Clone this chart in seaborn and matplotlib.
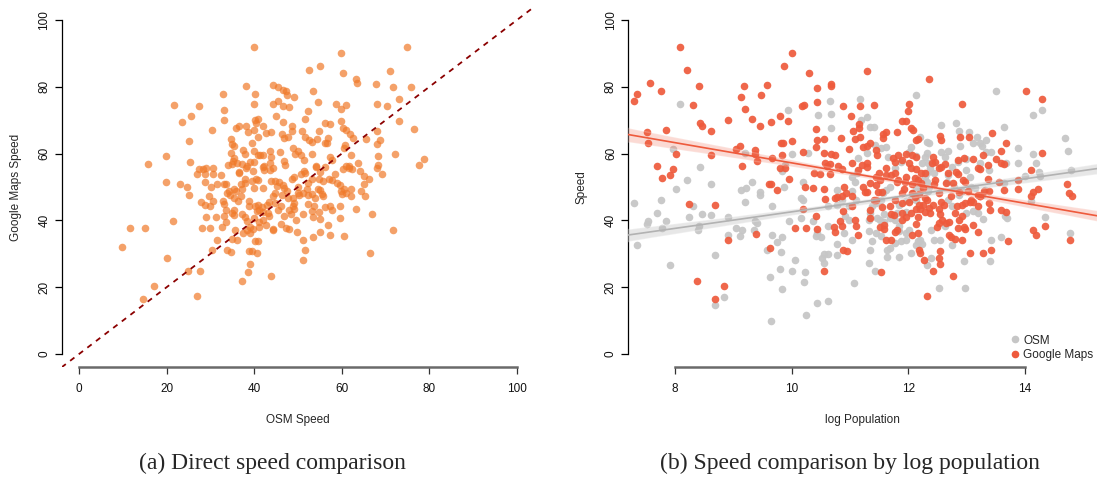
import matplotlib
matplotlib.use("Agg")
import matplotlib.pyplot as plt
from matplotlib.lines import Line2D
import seaborn as sns
import pandas as pd

# ---------------- Panel (a): OSM speed vs Google Maps speed ----------------
osm_speed = [
    40.0, 74.9, 59.9, 52.4, 55.0, 60.2, 71.0, 63.3, 63.5, 38.1,
    44.3, 45.4, 46.5, 47.3, 40.2, 32.9, 53.5, 49.1, 67.9, 71.6,
    75.8, 47.6, 21.8, 27.5, 25.6, 23.4, 33.1, 33.1, 40.0, 44.3,
    45.4, 46.5, 48.0, 52.3, 54.6, 58.7, 59.9, 60.9, 68.1, 70.4,
    73.1, 73.1, 45.0, 46.5, 51.6, 40.1, 40.9, 42.1, 40.3, 38.2,
    36.5, 35.9, 30.4, 43.8, 42.8, 38.6, 40.0, 48.7, 48.6, 46.3,
    47.7, 46.8, 51.0, 51.5, 52.5, 53.1, 54.3, 54.8, 56.2, 57.2,
    59.9, 60.2, 60.9, 61.9, 62.6, 65.6, 68.1, 68.8, 68.1, 76.5,
    72.1, 68.3, 68.2, 68.0, 69.2, 77.6, 78.8, 34.6, 34.9, 35.4,
    37.4, 37.8, 34.7, 35.4, 34.9, 39.6, 40.9, 41.3, 40.0, 43.5,
    43.9, 43.7, 44.4, 45.8, 46.8, 47.1, 48.9, 50.0, 49.4, 50.7,
    51.4, 53.1, 56.2, 56.7, 56.8, 57.2, 57.8, 60.5, 60.8, 62.2,
    63.6, 60.9, 61.6, 19.8, 15.8, 25.4, 25.0, 19.9, 23.1, 24.6,
    25.1, 26.9, 27.4, 28.2, 29.0, 30.6, 28.8, 30.6, 28.8, 30.1,
    31.4, 29.6, 27.9, 28.8, 29.8, 30.6, 32.5, 33.0, 33.5, 33.7,
    34.3, 34.5, 32.8, 33.1, 33.5, 33.2, 33.5, 32.7, 31.2, 29.0,
    29.9, 28.0, 21.5, 20.0, 11.6, 15.0, 9.9, 30.4, 31.5, 33.9,
    34.8, 24.9, 27.6, 26.9, 17.1, 14.7, 37.3, 38.6, 39.0, 39.4,
    40.6, 40.2, 40.9, 43.8, 38.9, 34.9, 36.1, 35.7, 37.4, 38.4,
    39.8, 39.1, 41.0, 42.8, 44.3, 46.1, 47.2, 48.0, 49.6, 49.8,
    51.1, 51.6, 51.2, 53.4, 55.0, 57.3, 56.9, 60.5, 66.5, 71.6,
    67.0, 63.2, 59.6, 59.6, 57.8, 57.3, 56.1, 55.0, 54.8, 53.4,
    53.2, 51.1, 49.2, 48.8, 49.1, 48.8, 47.9, 48.5, 46.8, 46.1,
    45.5, 44.8, 44.8, 44.4, 46.3, 46.9, 45.2, 46.6, 43.9, 44.7,
    45.6, 47.5, 48.6, 49.2, 50.7, 51.3, 51.7, 52.3, 52.1, 52.2,
    50.0, 50.3, 53.2, 52.2, 53.1, 54.0, 54.2, 55.0, 54.8, 56.2,
    57.1, 57.7, 58.5, 58.9, 59.6, 59.9, 60.1, 60.5, 61.0, 62.2,
    62.0, 60.2, 61.6, 62.4, 64.2, 65.0, 65.0, 64.4, 65.2, 66.3,
    55.0, 55.4, 54.6, 55.8, 55.8, 53.9, 53.7, 50.0, 51.1, 47.7,
    38.4, 39.0, 40.0, 37.3, 36.6, 38.2, 39.7, 40.9, 40.4, 42.0,
    42.3, 43.5, 40.9, 41.9, 42.2, 36.9, 37.8, 38.0, 39.4, 42.0,
    40.0, 37.2, 35.9, 37.0, 36.2, 35.3, 35.5, 35.4, 35.5, 34.9,
    37.2, 37.9, 38.9, 38.8, 40.2, 40.8, 41.2, 41.7, 40.6, 41.9,
    43.1, 43.4, 42.9, 43.4, 40.0, 38.4, 39.1, 41.2, 42.0, 44.3,
    36.1, 36.6, 35.1, 34.1,
]
gmaps_speed = [
    92.0, 92.0, 90.2, 85.0, 86.3, 84.1, 84.6, 82.3, 81.2, 80.3,
    80.6, 79.9, 79.1, 78.6, 77.9, 77.9, 78.8, 77.0, 80.7, 79.8,
    80.0, 77.4, 74.6, 74.3, 71.4, 69.6, 73.1, 70.2, 74.9, 74.8,
    75.6, 74.3, 74.0, 72.8, 75.4, 74.8, 73.2, 74.6, 74.9, 74.3,
    76.4, 69.9, 71.3, 69.4, 70.4, 70.0, 70.4, 68.3, 69.2, 68.2,
    68.3, 67.6, 67.2, 66.4, 66.1, 66.4, 67.1, 68.2, 66.9, 65.8,
    65.1, 64.6, 66.8, 65.1, 64.1, 63.6, 64.3, 66.8, 69.1, 68.8,
    69.8, 67.7, 67.1, 65.9, 64.8, 64.3, 66.8, 64.0, 62.8, 67.3,
    59.8, 59.4, 56.7, 55.8, 54.0, 56.7, 58.4, 64.3, 62.9, 62.3,
    61.2, 59.9, 60.1, 58.6, 57.0, 63.3, 65.1, 59.6, 60.9, 60.9,
    59.1, 57.2, 55.7, 60.6, 57.8, 56.7, 61.8, 60.8, 59.9, 59.5,
    58.1, 59.9, 63.1, 63.1, 64.7, 59.0, 58.1, 61.8, 62.6, 59.5,
    57.3, 56.4, 55.8, 59.4, 56.8, 57.4, 63.8, 51.4, 50.9, 50.0,
    47.7, 53.8, 55.3, 55.4, 55.6, 55.6, 53.9, 53.8, 51.5, 49.9,
    50.8, 47.2, 45.4, 44.5, 44.4, 45.7, 53.6, 51.0, 50.8, 48.1,
    48.7, 47.7, 45.9, 44.8, 43.1, 41.4, 39.4, 37.9, 41.0, 40.9,
    37.7, 37.7, 39.9, 28.6, 37.7, 37.6, 31.9, 31.0, 34.1, 31.0,
    30.4, 25.0, 25.0, 17.3, 20.5, 16.5, 22.0, 24.6, 26.9, 30.8,
    30.2, 33.8, 33.8, 23.5, 30.8, 34.4, 34.2, 37.1, 36.3, 37.1,
    37.5, 36.2, 38.0, 38.5, 37.3, 38.9, 37.7, 37.4, 40.1, 36.5,
    34.2, 31.2, 28.2, 34.9, 36.5, 35.7, 38.6, 35.2, 30.1, 37.1,
    42.0, 43.5, 40.7, 44.2, 43.1, 44.2, 43.9, 40.4, 42.4, 40.9,
    42.7, 41.9, 43.4, 44.3, 45.3, 46.7, 43.0, 41.8, 41.2, 44.3,
    43.0, 45.2, 48.2, 47.2, 47.7, 49.7, 50.3, 50.6, 51.8, 51.9,
    51.4, 48.9, 52.4, 52.9, 53.8, 54.7, 54.1, 51.3, 49.4, 47.5,
    48.2, 47.5, 47.9, 44.8, 52.3, 56.1, 56.4, 54.6, 52.5, 55.9,
    52.5, 52.1, 53.9, 51.3, 50.6, 48.8, 47.8, 49.3, 48.3, 47.4,
    49.3, 55.4, 56.4, 55.4, 54.8, 53.3, 50.8, 48.8, 47.4, 52.4,
    49.1, 47.8, 49.4, 51.8, 47.2, 46.6, 44.2, 49.9, 48.2, 46.7,
    56.2, 57.6, 57.6, 56.8, 54.4, 55.6, 54.7, 52.2, 52.5, 56.1,
    55.0, 55.1, 59.6, 59.5, 56.2, 50.8, 52.4, 51.3, 51.7, 49.8,
    49.7, 49.3, 48.7, 47.2, 45.9, 49.3, 46.7, 43.2, 41.7, 42.2,
    41.9, 41.1, 44.2, 45.7, 44.2, 44.5, 43.0, 43.9, 42.8, 42.6,
    42.2, 41.2, 44.7, 45.4, 40.6, 39.7, 38.1, 39.4, 40.1, 37.2,
    57.3, 54.3, 57.8, 56.6,
]

# ---------------- Panel (b): speed vs log population ----------------
osm_logpop = [
    8.08, 10.65, 10.67, 10.45, 10.67, 9.93, 11.18, 11.19, 11.29, 11.35,
    11.41, 12.13, 13.51, 14.15, 14.29, 14.69, 14.75, 14.79, 14.34, 14.77,
    14.14, 14.19, 14.24, 14.27, 14.00, 14.11, 13.88, 13.88, 13.64, 13.68,
    13.64, 13.66, 13.70, 13.60, 13.42, 13.33, 13.26, 13.23, 13.18, 13.33,
    13.42, 13.38, 13.32, 13.27, 13.29, 13.19, 13.12, 13.40, 12.96, 12.97,
    12.52, 12.39, 12.32, 12.21, 12.24, 12.17, 12.14, 12.04, 11.84, 11.63,
    11.63, 11.69, 11.77, 11.87, 11.96, 11.32, 11.43, 11.35, 11.38, 11.54,
    11.44, 11.51, 11.58, 11.47, 11.59, 11.68, 11.77, 11.80, 11.96, 11.84,
    11.96, 12.05, 12.14, 12.08, 12.14, 12.20, 12.34, 12.35, 12.32, 12.29,
    12.32, 12.38, 12.45, 12.34, 12.28, 12.32, 12.36, 12.21, 12.57, 12.82,
    12.87, 12.89, 13.05, 12.86, 12.75, 12.69, 12.66, 12.78, 12.87, 12.69,
    12.75, 12.99, 12.93, 13.06, 13.08, 13.14, 12.63, 12.75, 12.55, 12.45,
    12.39, 12.02, 11.96, 11.84, 11.84, 11.69, 11.62, 11.56, 11.53, 11.44,
    11.38, 11.35, 11.32, 11.10, 10.99, 10.98, 10.92, 10.89, 10.78, 10.77,
    10.63, 10.55, 10.52, 10.56, 10.43, 10.50, 10.42, 10.37, 10.16, 10.19,
    10.16, 10.19, 10.28, 10.01, 9.84, 9.87, 9.66, 9.67, 9.75, 9.83,
    9.81, 9.80, 9.63, 9.84, 10.01, 10.05, 10.22, 10.21, 10.24, 10.44,
    10.63, 9.64, 9.95, 9.57, 9.37, 9.40, 9.35, 9.15, 9.11, 8.91,
    9.05, 8.91, 9.19, 9.13, 9.32, 9.46, 9.46, 9.19, 9.22, 8.69,
    8.68, 8.83, 8.61, 8.61, 8.43, 8.21, 8.23, 8.30, 8.46, 8.39,
    8.41, 8.01, 7.96, 7.85, 7.77, 7.76, 7.68, 7.52, 7.54, 7.29,
    7.34, 7.91, 9.88, 11.14, 11.12, 11.09, 11.03, 11.04, 10.86, 10.77,
    10.78, 10.63, 10.62, 11.04, 11.07, 11.32, 11.29, 11.43, 11.53, 11.62,
    11.65, 11.77, 11.87, 12.02, 12.14, 12.05, 12.23, 12.32, 12.63, 12.57,
    12.69, 12.99, 13.12, 13.24, 12.99,
]
osm_speed_pop = [
    74.8, 75.8, 71.9, 71.6, 67.8, 73.1, 76.3, 70.1, 71.0, 68.1,
    68.1, 77.5, 78.8, 71.5, 73.0, 64.8, 60.8, 55.1, 41.1, 36.2,
    60.0, 57.3, 54.4, 53.2, 53.4, 45.7, 61.8, 57.2, 68.1, 57.1,
    51.1, 41.2, 40.6, 34.9, 34.2, 64.1, 62.3, 63.1, 65.1, 60.5,
    60.6, 55.1, 49.2, 47.7, 40.4, 42.2, 42.7, 27.9, 27.8, 19.9,
    19.9, 28.6, 26.7, 34.2, 32.9, 33.9, 32.7, 30.2, 29.0, 28.9,
    31.0, 31.7, 33.2, 33.7, 34.2, 27.3, 25.0, 31.2, 33.7, 35.4,
    36.2, 40.0, 39.6, 40.6, 41.9, 40.7, 40.2, 42.2, 42.5, 44.6,
    45.7, 46.5, 46.2, 48.2, 50.1, 49.1, 48.7, 50.1, 51.6, 53.1,
    54.3, 55.6, 54.1, 57.1, 59.1, 63.6, 63.1, 64.9, 68.6, 69.1,
    66.9, 62.3, 66.6, 57.4, 56.1, 53.6, 51.6, 50.1, 47.7, 46.2,
    44.2, 42.2, 48.7, 52.9, 49.9, 49.6, 38.2, 32.7, 34.2, 34.2,
    37.2, 37.2, 36.2, 36.7, 38.2, 50.1, 49.1, 48.2, 46.2, 45.2,
    44.2, 42.2, 40.0, 46.2, 44.2, 40.2, 41.2, 36.2, 32.9, 29.7,
    30.0, 30.0, 28.7, 27.2, 36.2, 35.0, 35.4, 39.7, 40.7, 46.2,
    46.6, 51.6, 60.1, 59.8, 54.9, 50.1, 44.2, 35.5, 33.5, 34.9,
    30.4, 25.6, 23.2, 19.6, 25.0, 28.0, 24.5, 21.7, 11.7, 15.2,
    15.8, 10.0, 39.9, 31.2, 39.9, 39.1, 37.2, 37.2, 35.2, 35.5,
    37.7, 40.9, 45.4, 49.1, 51.6, 48.4, 47.6, 60.1, 49.7, 29.7,
    14.7, 17.0, 41.5, 51.0, 56.1, 52.1, 40.9, 44.2, 42.0, 37.2,
    38.2, 49.5, 61.4, 39.9, 37.6, 46.2, 42.2, 38.9, 39.7, 45.3,
    32.7, 26.7, 56.6, 58.6, 54.1, 51.6, 48.9, 53.1, 46.2, 49.2,
    44.7, 44.2, 38.2, 34.2, 21.4, 36.9, 60.1, 62.7, 61.6, 62.1,
    59.1, 55.6, 57.6, 60.5, 59.3, 62.1, 57.1, 60.1, 59.1, 60.6,
    60.8, 58.4, 63.1, 57.1, 55.1,
]
gm_logpop = [
    8.09, 8.20, 8.41, 8.30, 7.57, 7.76, 7.34, 7.29, 7.52, 7.54,
    7.85, 8.42, 8.46, 8.61, 8.01, 7.68, 7.77, 7.96, 7.91, 8.23,
    8.61, 8.69, 8.91, 9.38, 8.38, 8.68, 8.83, 9.86, 10.01, 10.29,
    9.18, 9.13, 9.19, 9.47, 9.57, 8.91, 9.32, 9.46, 9.64, 9.80,
    9.94, 10.17, 10.21, 10.44, 10.67, 10.68, 10.44, 9.05, 9.11, 9.37,
    9.37, 9.40, 9.15, 9.67, 9.81, 9.85, 9.84, 10.01, 9.80, 9.88,
    9.61, 9.64, 9.75, 9.95, 10.20, 10.23, 10.37, 10.55, 10.57, 10.42,
    10.44, 10.55, 10.55, 10.42, 10.39, 10.49, 10.57, 10.61, 10.66, 10.67,
    10.74, 10.65, 10.79, 10.87, 10.88, 10.85, 11.02, 11.06, 11.08, 10.99,
    11.13, 11.29, 11.18, 11.15, 11.15, 11.18, 11.23, 11.29, 11.41, 11.34,
    11.44, 11.47, 11.56, 11.57, 11.62, 11.80, 11.90, 11.96, 12.01, 12.00,
    12.04, 12.09, 12.14, 12.17, 12.36, 12.93, 12.89, 13.05, 13.43, 14.02,
    14.29, 14.29, 14.11, 14.14, 14.23, 14.11, 14.72, 14.76, 14.81, 13.88,
    13.88, 13.60, 13.68, 13.50, 13.60, 13.64, 14.15, 14.19, 14.35, 14.77,
    13.72, 13.60, 13.68, 13.42, 13.29, 13.06, 12.76, 12.32, 12.43, 12.54,
    12.52, 12.54, 12.27, 12.18, 12.20, 11.54, 10.56, 9.63, 10.88, 10.95,
    10.05, 10.24, 10.44, 10.73, 10.74, 10.87, 10.83, 11.09, 11.11, 11.14,
    11.04, 10.88, 11.03, 10.87, 10.78, 10.93, 10.90, 10.42, 10.20, 11.41,
    11.29, 11.34, 11.35, 11.44, 11.55, 11.52, 11.58, 11.61, 11.70, 11.58,
    11.77, 11.81, 11.90, 11.97, 12.07, 12.17, 12.16, 12.07, 12.13, 12.13,
    11.90, 11.93, 11.95, 11.96, 11.80, 11.71, 11.61, 11.62, 11.50, 11.51,
    11.44, 11.34, 11.26, 11.23, 11.48, 11.45, 11.74, 11.77, 11.83, 11.89,
    11.97, 12.06, 12.14, 12.02, 12.05, 12.13, 12.22, 12.28, 12.11, 12.17,
    12.07, 12.22, 12.25, 12.19, 12.28, 12.32, 12.26, 12.19, 12.21, 12.29,
    12.36, 12.38, 12.43, 12.45, 12.46, 12.40, 12.43, 12.46, 12.52, 12.57,
    12.63, 12.55, 12.57, 12.68, 12.64, 12.53, 12.57, 12.61, 12.53, 12.55,
    12.58, 12.53, 12.50, 12.65, 12.70, 12.74, 12.77, 12.82, 12.86, 12.85,
    12.96, 12.94, 12.97, 12.87, 12.84, 12.81, 12.92, 12.97, 12.93, 12.87,
    12.85, 12.95, 12.98, 12.92, 12.81, 12.73, 12.70, 13.12, 13.19, 13.23,
    13.28, 13.37, 13.19, 13.24, 13.20, 13.12, 13.12, 13.19, 13.24, 13.30,
    13.38, 13.37, 13.39, 13.40, 13.55, 13.64, 13.07, 13.06, 13.02, 12.11,
    12.02, 12.04, 11.89, 11.75, 11.71, 11.69, 11.78, 11.89, 11.55, 11.78,
    11.83, 11.30, 11.29, 11.20, 11.04, 10.74,
]
gm_speed_pop = [
    91.9, 85.0, 80.3, 74.6, 81.1, 78.8, 77.9, 75.6, 66.4, 63.3,
    67.0, 69.1, 68.4, 66.8, 59.8, 56.3, 52.7, 55.3, 53.7, 44.9,
    59.7, 44.5, 34.1, 35.9, 22.0, 16.6, 20.5, 86.3, 90.2, 84.1,
    80.1, 77.0, 73.2, 77.5, 80.6, 70.1, 70.3, 68.2, 69.5, 71.4,
    69.9, 74.2, 74.6, 79.7, 80.2, 80.8, 75.3, 61.5, 62.2, 61.0,
    60.0, 57.8, 56.4, 58.8, 63.3, 63.1, 59.5, 63.7, 55.8, 55.6,
    50.9, 50.8, 49.1, 52.3, 60.5, 50.0, 49.6, 49.5, 46.3, 61.9,
    64.1, 64.4, 60.3, 67.5, 54.3, 54.0, 57.3, 56.4, 56.8, 59.8,
    59.5, 54.0, 56.2, 55.3, 74.1, 64.6, 71.3, 66.8, 64.3, 61.3,
    55.1, 84.6, 74.3, 68.8, 67.8, 65.0, 61.9, 62.3, 74.5, 63.1,
    61.0, 59.6, 64.8, 66.0, 66.6, 66.5, 69.8, 69.7, 74.9, 72.8,
    67.6, 67.1, 64.1, 64.3, 82.4, 74.9, 64.9, 64.9, 66.1, 78.8,
    76.4, 60.1, 55.1, 48.5, 49.3, 47.2, 50.8, 48.2, 47.3, 52.1,
    49.4, 60.9, 63.2, 58.4, 57.3, 56.8, 37.2, 35.7, 38.2, 34.2,
    33.8, 43.0, 42.5, 31.0, 30.2, 30.1, 23.5, 17.3, 25.0, 26.9,
    28.6, 30.7, 28.1, 31.2, 30.2, 24.6, 25.0, 31.7, 31.0, 30.7,
    37.7, 37.7, 37.4, 37.9, 36.5, 38.2, 39.9, 40.0, 38.2, 35.5,
    44.2, 42.7, 47.2, 47.2, 47.0, 48.1, 50.1, 41.4, 43.3, 46.2,
    48.4, 40.6, 43.0, 46.2, 44.0, 37.9, 37.3, 34.2, 34.2, 38.6,
    36.5, 37.2, 40.0, 40.9, 35.7, 36.3, 41.0, 48.2, 43.5, 39.0,
    48.2, 49.4, 51.6, 53.1, 51.5, 53.6, 55.6, 53.5, 54.1, 52.2,
    50.6, 51.3, 48.5, 50.1, 48.4, 53.1, 58.6, 57.6, 59.7, 58.1,
    59.9, 59.6, 58.9, 57.1, 55.8, 55.3, 54.1, 54.1, 52.6, 52.1,
    50.9, 51.1, 49.7, 47.9, 46.7, 46.0, 44.6, 44.6, 43.4, 42.6,
    43.7, 42.2, 44.5, 50.8, 52.1, 57.1, 59.1, 57.6, 55.6, 56.1,
    56.8, 65.3, 64.1, 54.1, 51.1, 48.2, 45.5, 44.6, 43.5, 41.9,
    40.2, 39.2, 37.9, 39.2, 39.6, 47.2, 51.1, 54.4, 54.0, 58.0,
    58.8, 52.1, 51.6, 48.6, 44.2, 42.2, 44.5, 45.2, 41.2, 40.2,
    37.7, 37.9, 37.4, 34.1, 34.4, 34.9, 35.5, 58.3, 55.6, 55.3,
    59.5, 56.6, 47.6, 47.2, 44.4, 45.5, 38.6, 36.5, 47.2, 48.7,
    48.7, 52.4, 45.2, 43.0, 51.6, 49.0, 46.2, 45.4, 48.7, 46.9,
    45.4, 42.2, 42.2, 41.7, 41.8, 44.4, 46.2, 45.2, 48.4, 54.3,
    52.1, 57.1, 55.9, 56.6, 57.1, 46.8,
]

series_names = ["OSM", "Google Maps"]
speed_ticks = [0, 20, 40, 60, 80, 100]
logpop_ticks = [8, 10, 12, 14]
captions = ["(a) Direct speed comparison", "(b) Speed comparison by log population"]

# ---------------- styling ----------------
sns.set_style("ticks")
plt.rcParams["font.family"] = ["Liberation Sans", "DejaVu Sans"]

ORANGE = "#F07A2A"
RED = "#EE5A3C"
GREY = "#C6C6C6"
GREY_LINE = "#B2B2B2"

W, H = 1097, 483
fig = plt.figure(figsize=(W / 100, H / 100), dpi=100)

bottom = (H - 367.4) / H
height = 360.8 / H
ax1 = fig.add_axes([61.5 / W, bottom, 473 / W, height])
ax2 = fig.add_axes([628 / W, bottom, 469 / W, height])


def r_style(ax, xb, yb, xt, yt):
    for s in ["top", "right"]:
        ax.spines[s].set_visible(False)
    ax.spines["left"].set_bounds(*yb)
    ax.spines["bottom"].set_bounds(*xb)
    ax.spines["left"].set_color("black")
    ax.spines["left"].set_linewidth(0.9)
    ax.spines["bottom"].set_color("#6A6A6A")
    ax.spines["bottom"].set_linewidth(1.8)
    ax.set_xticks(xt)
    ax.set_yticks(yt)
    ax.tick_params(axis="both", direction="out", length=5, width=0.9,
                   color="black", labelsize=8.5, labelcolor="#111111",
                   bottom=True, left=True, top=False, right=False)
    ax.tick_params(axis="x", color="#333333", pad=6)
    ax.tick_params(axis="y", pad=3)
    for lab in ax.get_yticklabels():
        lab.set_rotation(90)
        lab.set_va("center")
    ax.set_facecolor("none")
    ax.grid(False)


# ---- panel (a)
df_a = pd.DataFrame({"osm": osm_speed, "gmaps": gmaps_speed})
ax1.set_xlim(-4, 104)
ax1.set_ylim(-4, 104)
sns.scatterplot(data=df_a, x="osm", y="gmaps", ax=ax1, color=ORANGE,
                alpha=0.7, s=30, linewidth=0, zorder=2)
ax1.axline((0, 0), (1, 1), color="#8B0000", lw=1.3,
           linestyle=(0, (3, 3)), zorder=3)
r_style(ax1, (0, 100), (0, 100), speed_ticks, speed_ticks)
ax1.set_xlabel("OSM Speed", fontsize=8.5)
ax1.set_ylabel("Google Maps Speed", fontsize=8.5)
ax1.xaxis.set_label_coords(0.5, -0.13)
ax1.yaxis.set_label_coords(-0.084, 0.5)

# ---- panel (b)
df_osm = pd.DataFrame({"logpop": osm_logpop, "speed": osm_speed_pop})
df_gm = pd.DataFrame({"logpop": gm_logpop, "speed": gm_speed_pop})
ax2.set_xlim(7.19, 15.24)
ax2.set_ylim(-4, 104)
sns.scatterplot(data=df_osm, x="logpop", y="speed", ax=ax2, color=GREY,
                alpha=0.95, s=30, linewidth=0, zorder=2)
sns.scatterplot(data=df_gm, x="logpop", y="speed", ax=ax2, color=RED,
                alpha=0.92, s=30, linewidth=0, zorder=3)

n_before = len(ax2.collections)
sns.regplot(data=df_osm, x="logpop", y="speed", ax=ax2, scatter=False,
            truncate=False, ci=60, seed=1, color=GREY_LINE,
            line_kws={"lw": 1.2, "zorder": 5})
sns.regplot(data=df_gm, x="logpop", y="speed", ax=ax2, scatter=False,
            truncate=False, ci=60, seed=1, color=RED,
            line_kws={"lw": 1.2, "zorder": 5})
bands = ax2.collections[n_before:]
if len(bands) >= 2:
    bands[0].set_alpha(0.3)
    bands[0].set_zorder(4)
    bands[1].set_alpha(0.22)
    bands[1].set_zorder(4)
ax2.set_xlim(7.19, 15.24)
ax2.set_ylim(-4, 104)

r_style(ax2, (8, 14), (0, 100), logpop_ticks, speed_ticks)
ax2.set_xlabel("log Population", fontsize=8.5)
ax2.set_ylabel("Speed", fontsize=8.5)
ax2.xaxis.set_label_coords(0.5, -0.13)
ax2.yaxis.set_label_coords(-0.086, 0.5)

handles = [
    Line2D([], [], marker="o", linestyle="none", markersize=5.5,
           markerfacecolor=GREY, markeredgewidth=0),
    Line2D([], [], marker="o", linestyle="none", markersize=5.5,
           markerfacecolor=RED, markeredgewidth=0),
]
ax2.legend(handles, series_names, loc="lower right", bbox_to_anchor=(1.005, 0.0),
           frameon=False, fontsize=8.5, handletextpad=0.2, labelspacing=0.25,
           handlelength=1.0, borderaxespad=0.1)

# ---- captions
cap_font = ["Liberation Serif", "DejaVu Serif"]
fig.text(272 / W, 1 - 463 / H, captions[0], ha="center", va="center",
         fontsize=17, family=cap_font)
fig.text(850 / W, 1 - 463 / H, captions[1], ha="center", va="center",
         fontsize=17, family=cap_font)

fig.savefig("out.png", dpi=100)
